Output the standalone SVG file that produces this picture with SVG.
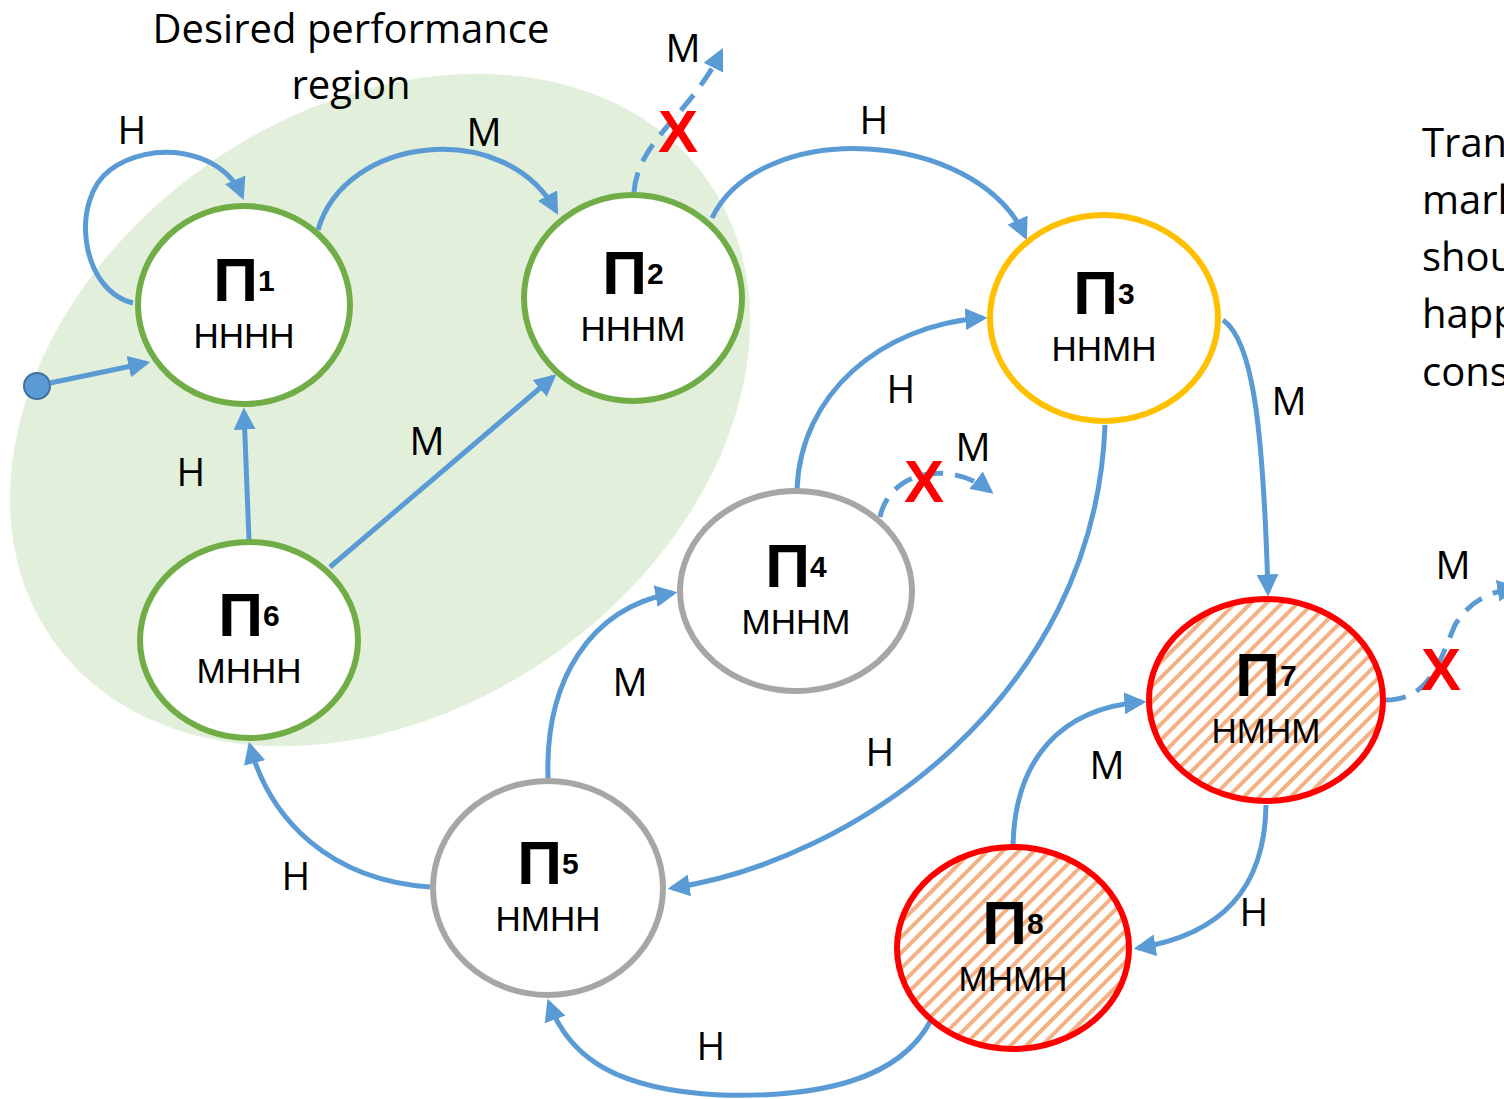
<svg xmlns="http://www.w3.org/2000/svg" width="1504" height="1099" viewBox="0 0 1504 1099">
  <style>
    .node { fill: #ffffff; stroke-width: 6; }
    .green { stroke: #70ad47; }
    .gold { stroke: #ffc000; }
    .gray { stroke: #a6a6a6; }
    .red { stroke: #ff0000; fill: url(#hatch); }
    .pi { font-family: "Liberation Sans", Arial, sans-serif; font-weight: bold; font-size: 62px; fill: #000; text-anchor: middle; }
    .sub { font-size: 30px; }
    .code { font-family: "Liberation Sans", Arial, sans-serif; font-size: 35px; fill: #000; text-anchor: middle; }
    .lbl { font-family: "Open Sans", "Noto Sans", sans-serif; font-size: 39px; fill: #000; text-anchor: middle; }
    .note { font-family: "Open Sans", "Noto Sans", sans-serif; font-size: 40px; fill: #000; }
    .edge { fill: none; stroke: #5b9bd5; stroke-width: 5; marker-end: url(#arrow); }
    .dash { stroke-dasharray: 20 12; }
    .x { font-family: "Liberation Sans", Arial, sans-serif; font-weight: bold; font-size: 60px; fill: #ff0000; text-anchor: middle; }
  </style>
  <defs>
    <marker id="arrow" viewBox="0 0 10 10" refX="8" refY="5" markerWidth="4.4" markerHeight="4.4" orient="auto" markerUnits="strokeWidth">
      <path d="M0,0 L10,5 L0,10 z" fill="#5b9bd5"/>
    </marker>
    <pattern id="hatch" width="11" height="11" patternUnits="userSpaceOnUse" patternTransform="rotate(45)">
      <rect width="11" height="11" fill="#ffffff"/>
      <line x1="2" y1="0" x2="2" y2="11" stroke="#f4b183" stroke-width="4"/>
    </pattern>
  </defs>

  <rect width="1504" height="1099" fill="#ffffff"/>

  <!-- desired performance region -->
  <g id="region">
    <ellipse cx="380" cy="410" rx="400" ry="300" transform="rotate(-35 380 410)" fill="#e2efda"/>
    <text class="note" x="351" y="43" text-anchor="middle">Desired performance</text>
    <text class="note" x="351" y="99" text-anchor="middle">region</text>
  </g>

  <!-- side note, running past the right edge -->
  <g id="note">
    <text class="note" x="1422" y="157">Tran</text>
    <text class="note" x="1422" y="214">mark</text>
    <text class="note" x="1422" y="271">shou</text>
    <text class="note" x="1422" y="328">happ</text>
    <text class="note" x="1422" y="386">cons</text>
  </g>

  <!-- transitions -->
  <g id="edges">
    <circle cx="37" cy="386" r="13" fill="#5b9bd5" stroke="#41719c" stroke-width="2"/>
    <path class="edge" d="M50 383 L146 363"/>
    <path class="edge" d="M133 303 C80 290 70 200 110 170 C150 140 222 148 242 196"/>
    <path class="edge" d="M318 230 C345 135 505 118 556 211"/>
    <path class="edge dash" d="M634 192 C638 140 690 115 721 52"/>
    <path class="edge" d="M712 218 C760 118 975 128 1025 236"/>
    <path class="edge" d="M249 540 L244 412"/>
    <path class="edge" d="M330 567 L553 377"/>
    <path class="edge" d="M797 490 C800 395 880 325 983 318"/>
    <path class="edge dash" d="M880 517 C890 470 950 460 990 491"/>
    <path class="edge" d="M1223 320 C1252 340 1263 420 1268 592"/>
    <path class="edge" d="M1105 425 C1095 700 850 862 672 888"/>
    <path class="edge" d="M548 778 C545 680 590 608 673 593"/>
    <path class="edge" d="M430 887 C330 880 270 820 250 746"/>
    <path class="edge" d="M931 1020 C900 1080 820 1098 720 1095 C620 1090 570 1060 549 1003"/>
    <path class="edge" d="M1013 845 C1015 760 1060 708 1142 702"/>
    <path class="edge" d="M1266 805 C1265 890 1220 935 1138 948"/>
    <path class="edge dash" d="M1386 700 C1430 700 1440 660 1455 625 C1470 600 1490 592 1515 588"/>

    <text class="lbl" x="132" y="144">H</text>
    <text class="lbl" x="484" y="146">M</text>
    <text class="lbl" x="683" y="62">M</text>
    <text class="lbl" x="874" y="134">H</text>
    <text class="lbl" x="191" y="486">H</text>
    <text class="lbl" x="427" y="455">M</text>
    <text class="lbl" x="901" y="403">H</text>
    <text class="lbl" x="973" y="461">M</text>
    <text class="lbl" x="1289" y="415">M</text>
    <text class="lbl" x="880" y="766">H</text>
    <text class="lbl" x="630" y="696">M</text>
    <text class="lbl" x="296" y="890">H</text>
    <text class="lbl" x="711" y="1060">H</text>
    <text class="lbl" x="1107" y="779">M</text>
    <text class="lbl" x="1254" y="926">H</text>
    <text class="lbl" x="1453" y="579">M</text>

    <text class="x" x="678" y="152">X</text>
    <text class="x" x="924" y="502">X</text>
    <text class="x" x="1441" y="690">X</text>
  </g>

  <!-- states -->
  <g id="n1">
    <ellipse class="node green" cx="244" cy="305" rx="106" ry="99"/>
    <text class="pi" x="244" y="301">Π<tspan class="sub" dy="-10">1</tspan></text>
    <text class="code" x="244" y="348">HHHH</text>
  </g>
  <g id="n2">
    <ellipse class="node green" cx="633" cy="298" rx="109" ry="103"/>
    <text class="pi" x="633" y="294">Π<tspan class="sub" dy="-10">2</tspan></text>
    <text class="code" x="633" y="341">HHHM</text>
  </g>
  <g id="n3">
    <ellipse class="node gold" cx="1104" cy="318" rx="114" ry="103"/>
    <text class="pi" x="1104" y="314">Π<tspan class="sub" dy="-10">3</tspan></text>
    <text class="code" x="1104" y="361">HHMH</text>
  </g>
  <g id="n4">
    <ellipse class="node gray" cx="796" cy="591" rx="116" ry="100"/>
    <text class="pi" x="796" y="587">Π<tspan class="sub" dy="-10">4</tspan></text>
    <text class="code" x="796" y="634">MHHM</text>
  </g>
  <g id="n5">
    <ellipse class="node gray" cx="548" cy="888" rx="115" ry="107"/>
    <text class="pi" x="548" y="884">Π<tspan class="sub" dy="-10">5</tspan></text>
    <text class="code" x="548" y="931">HMHH</text>
  </g>
  <g id="n6">
    <ellipse class="node green" cx="249" cy="640" rx="109" ry="98"/>
    <text class="pi" x="249" y="636">Π<tspan class="sub" dy="-10">6</tspan></text>
    <text class="code" x="249" y="683">MHHH</text>
  </g>
  <g id="n7">
    <ellipse class="node red" cx="1266" cy="700" rx="117" ry="101"/>
    <text class="pi" x="1266" y="696">Π<tspan class="sub" dy="-10">7</tspan></text>
    <text class="code" x="1266" y="743">HMHM</text>
  </g>
  <g id="n8">
    <ellipse class="node red" cx="1013" cy="948" rx="116" ry="101"/>
    <text class="pi" x="1013" y="944">Π<tspan class="sub" dy="-10">8</tspan></text>
    <text class="code" x="1013" y="991">MHMH</text>
  </g>
</svg>
